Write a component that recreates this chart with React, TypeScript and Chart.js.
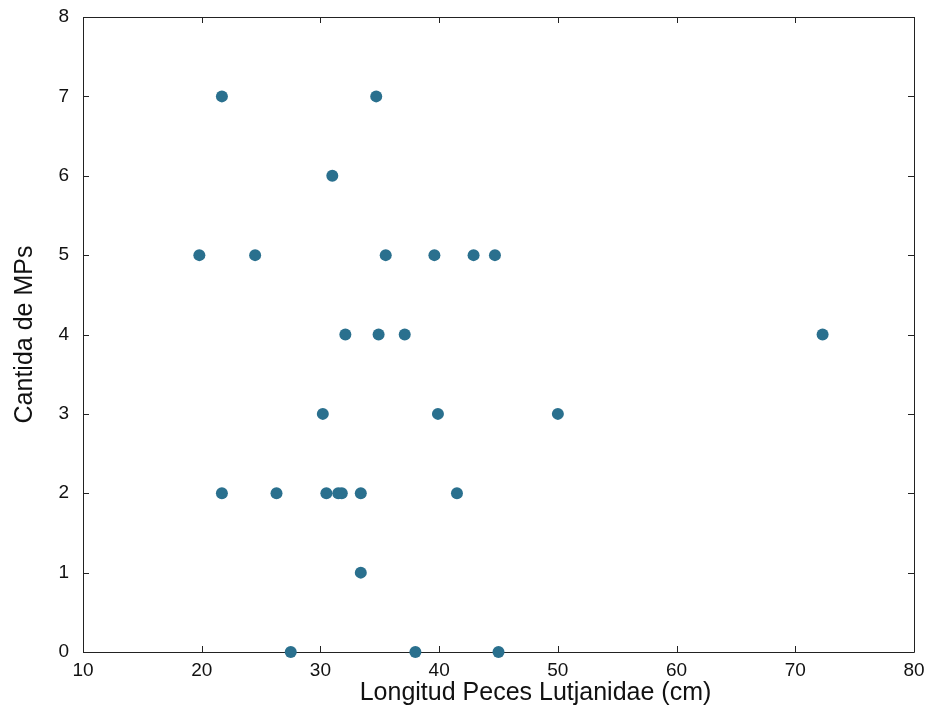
import React, { useEffect, useRef } from "react";
import { Chart, registerables } from "chart.js";

Chart.register(...registerables);

const lengths = [19.8, 21.7, 21.7, 24.5, 26.3, 27.5, 30.2, 30.5, 31.0, 31.5, 31.8, 32.1, 33.4, 33.4, 34.7, 34.9, 35.5, 37.1, 38.0, 39.6, 39.9, 41.5, 42.9, 44.7, 45.0, 50.0, 72.3];
const counts = [5, 7, 2, 5, 2, 0, 3, 2, 6, 2, 2, 4, 2, 1, 7, 4, 5, 4, 0, 5, 3, 2, 5, 5, 0, 3, 4];
const xTitle = "Longitud Peces Lutjanidae (cm)";
const yTitle = "Cantida de MPs";
const FONT = "'Liberation Sans', Arial, sans-serif";

const framePlugin = {
  id: "frame",
  beforeDatasetsDraw(chart: any) {
    const { ctx, chartArea } = chart;
    const { left, right, top, bottom } = chartArea;
    const xs = chart.scales.x;
    const ys = chart.scales.y;
    const tl = 6;
    ctx.save();
    ctx.strokeStyle = "#222";
    ctx.lineWidth = 1;
    ctx.beginPath();
    ctx.rect(Math.round(left) + 0.5, Math.round(top) + 0.5, Math.round(right - left), Math.round(bottom - top));
    ctx.stroke();
    ctx.beginPath();
    xs.ticks.forEach((t: any) => {
      const px = Math.round(xs.getPixelForValue(t.value)) + 0.5;
      ctx.moveTo(px, bottom);
      ctx.lineTo(px, bottom - tl);
      ctx.moveTo(px, top);
      ctx.lineTo(px, top + tl);
    });
    ys.ticks.forEach((t: any) => {
      const py = Math.round(ys.getPixelForValue(t.value)) + 0.5;
      ctx.moveTo(left, py);
      ctx.lineTo(left + tl, py);
      ctx.moveTo(right, py);
      ctx.lineTo(right - tl, py);
    });
    ctx.stroke();
    ctx.restore();
  },
  afterDraw(chart: any) {
    const { ctx, chartArea } = chart;
    ctx.save();
    ctx.fillStyle = "#111";
    ctx.font = `25px ${FONT}`;
    ctx.textAlign = "center";
    ctx.textBaseline = "alphabetic";
    const cx = (chartArea.left + chartArea.right) / 2 + 37;
    ctx.fillText(xTitle, cx, chartArea.bottom + 48);
    ctx.restore();
  },
};

export default function App() {
  const ref = useRef<HTMLCanvasElement | null>(null);
  useEffect(() => {
    if (!ref.current) return;
    const chart = new Chart(ref.current, {
      type: "scatter",
      data: {
        datasets: [
          {
            data: lengths.map((x, i) => ({ x, y: counts[i] })),
            backgroundColor: "rgb(42,112,142)",
            borderColor: "rgb(42,112,142)",
            pointRadius: 6,
            pointHoverRadius: 6,
            borderWidth: 0,
            clip: false as any,
          },
        ],
      },
      options: {
        animation: false,
        responsive: true,
        maintainAspectRatio: false,
        layout: { padding: { left: 0, right: 15, top: 17, bottom: 0 } },
        plugins: { legend: { display: false }, tooltip: { enabled: false } },
        scales: {
          x: {
            type: "linear",
            min: 10,
            max: 80,
            afterFit: (s: any) => { s.height = 58; s.paddingLeft = 0; s.paddingRight = 0; },
            grid: { display: false, drawTicks: false },
            border: { display: false },
            ticks: { stepSize: 10, color: "#111", font: { family: FONT, size: 19 }, padding: 7, maxRotation: 0 },
            title: { display: false, text: xTitle },
          },
          y: {
            type: "linear",
            min: 0,
            max: 8,
            afterFit: (s: any) => { s.width = 83; s.paddingTop = 0; s.paddingBottom = 0; },
            grid: { display: false, drawTicks: false },
            border: { display: false },
            ticks: { stepSize: 1, color: "#111", font: { family: FONT, size: 19 }, padding: 14 },
            title: { display: true, text: yTitle, color: "#111", font: { family: FONT, size: 25 }, padding: { top: 10, bottom: 4 } },
          },
        },
      },
      plugins: [framePlugin],
    });
    return () => chart.destroy();
  }, []);
  return (
    <div style={{ position: "fixed", left: 0, top: 0, width: 929, height: 710, background: "#fff" }}>
      <canvas ref={ref} />
    </div>
  );
}
